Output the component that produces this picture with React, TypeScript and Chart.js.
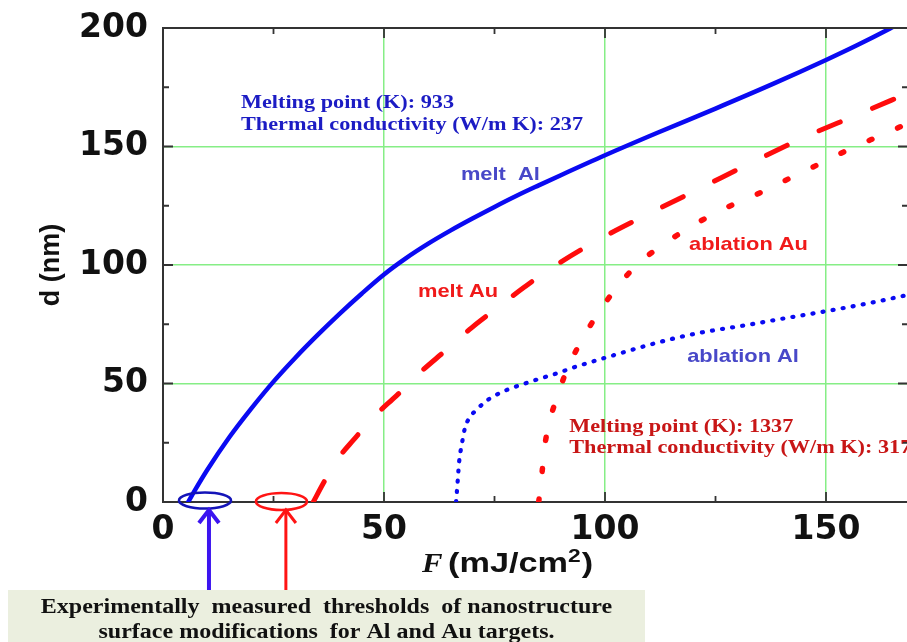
import React, { useEffect, useRef } from "react";
import { Chart, registerables } from "chart.js";

Chart.register(...registerables);

// ---------- data ----------
const meltAlF = [5.7, 7.2, 10, 15, 20, 25, 30, 35, 40, 45, 50, 55, 60, 65, 70, 75, 80, 85, 90, 100, 112, 125, 138, 150, 157, 164.5, 169];
const meltAlD = [0, 4.9, 13.5, 27.3, 39.5, 50.8, 61, 70.5, 79.5, 88, 96, 102.9, 109, 114.5, 119.6, 124.5, 129.2, 133.6, 137.9, 146.3, 155.9, 166, 176.4, 186.5, 192.7, 199.8, 204.3];

const meltAuF = [34, 36.3, 39.3, 43.1, 48, 52.9, 58.5, 63.6, 69.8, 75.1, 81.7, 86.8, 98.4, 110.2, 122.2, 133.5, 145.2, 157, 168.6];
const meltAuD = [0, 8, 17.6, 26.2, 36.5, 45, 55.2, 63.4, 73.5, 81.2, 90.6, 97.4, 110.5, 121.9, 133, 143.5, 154, 163.3, 172.6];

const ablAuF = [85.0, 85.7, 86.3, 87.4, 89.2, 91.3, 94.2, 97.7, 101.9, 107.2, 114, 120.8, 127.8, 135, 141.9, 149.1, 155.9, 162.7, 168.6];
const ablAuD = [0, 11.4, 22.6, 33.6, 44.4, 55.4, 66.5, 77.5, 88.7, 100, 109.7, 117.7, 124.5, 130.4, 136.7, 143.2, 149.4, 154.9, 159.8];

const ablAlF = [66.3, 66.4, 66.7, 67.0, 67.6, 68.3, 69.5, 70.9, 72.9, 75.3, 77.8, 80, 84.5, 89.1, 93.6, 98.5, 103, 110, 116, 121.5, 132.8, 140, 150, 160, 168.6];
const ablAlD = [0, 2.2, 9.6, 17, 24.3, 31.1, 36, 38.8, 42.3, 45.1, 47.3, 48.8, 51.6, 54.3, 57.2, 60, 62.5, 66.3, 69.2, 71.4, 74.9, 77.3, 80.5, 84, 87.4];

const xTickValues = [0, 25, 50, 75, 100, 125, 150];
const yTickValues = [0, 25, 50, 75, 100, 125, 150, 175, 200];
const labelStep = 50;
const xMax = 168.55;

const thresholdAl = 9.5;
const thresholdAu = 26.8;

// ---------- styles ----------
const SERIF = '"Liberation Serif", "Times New Roman", serif';
const SANS = '"Liberation Sans", Arial, sans-serif';
const GRID = "#86ee86";
const AXIS = "#333333";
const BLUE = "#0a0af2";
const RED = "#ff0c0c";

const pts = (xs: number[], ys: number[]) => xs.map((x, i) => ({ x, y: ys[i] }));

const annotations = [
  { text: "Melting point (K): 933", x: 17.65, y: 168.4, font: `bold 19px ${SERIF}`, color: "#1c1cc4", sx: 1.17 },
  { text: "Thermal conductivity (W/m K): 237", x: 17.65, y: 159.1, font: `bold 19px ${SERIF}`, color: "#1c1cc4", sx: 1.17 },
  { text: "melt  Al", x: 67.4, y: 138.0, font: `bold 19px ${SANS}`, color: "#4848c8", sx: 1.15 },
  { text: "melt Au", x: 57.7, y: 88.6, font: `bold 19px ${SANS}`, color: "#f01a1a", sx: 1.15 },
  { text: "ablation Au", x: 119.0, y: 108.4, font: `bold 19px ${SANS}`, color: "#f01a1a", sx: 1.15 },
  { text: "ablation Al", x: 118.6, y: 61.2, font: `bold 19px ${SANS}`, color: "#4848c8", sx: 1.15 },
  { text: "Melting point (K): 1337", x: 91.9, y: 31.6, font: `bold 19px ${SERIF}`, color: "#c81616", sx: 1.17 },
  { text: "Thermal conductivity (W/m K): 317", x: 91.9, y: 22.8, font: `bold 19px ${SERIF}`, color: "#c81616", sx: 1.17 },
];

function drawText(ctx: CanvasRenderingContext2D, text: string, x: number, y: number, font: string, color: string, sx: number, align: "left" | "center" = "left") {
  ctx.save();
  ctx.font = font;
  ctx.fillStyle = color;
  ctx.textBaseline = "middle";
  ctx.textAlign = "left";
  const w = ctx.measureText(text).width * sx;
  const x0 = align === "center" ? x - w / 2 : x;
  ctx.translate(x0, y);
  ctx.scale(sx, 1);
  ctx.fillText(text, 0, 0);
  ctx.restore();
  return w;
}

const decorPlugin = {
  id: "decor",
  afterDraw(chart: any) {
    const { ctx, chartArea: ca, scales } = chart;
    const xs = scales.x;
    const ys = scales.y;
    ctx.save();

    // top / right frame
    ctx.strokeStyle = AXIS;
    ctx.lineWidth = 2;
    ctx.beginPath();
    ctx.moveTo(ca.left, ca.top);
    ctx.lineTo(ca.right, ca.top);
    ctx.lineTo(ca.right, ca.bottom);
    ctx.stroke();

    // inward ticks
    ctx.lineWidth = 1.8;
    for (const v of xTickValues) {
      const p = xs.getPixelForValue(v);
      const len = v % labelStep === 0 ? 10 : 6;
      ctx.beginPath();
      ctx.moveTo(p, ca.bottom);
      ctx.lineTo(p, ca.bottom - len);
      ctx.moveTo(p, ca.top);
      ctx.lineTo(p, ca.top + len);
      ctx.stroke();
    }
    for (const v of yTickValues) {
      const p = ys.getPixelForValue(v);
      const len = v % labelStep === 0 ? 10 : 6;
      ctx.beginPath();
      ctx.moveTo(ca.left, p);
      ctx.lineTo(ca.left + len, p);
      ctx.moveTo(ca.right, p);
      ctx.lineTo(ca.right - len, p);
      ctx.stroke();
    }

    // threshold ellipses
    const ell = [
      { x: thresholdAl, color: "#1414b8", rx: 26, ry: 8, dy: -1.5 },
      { x: thresholdAu, color: "#ff1414", rx: 25.5, ry: 8.5, dy: -0.5 },
    ];
    ctx.lineWidth = 2.6;
    for (const e of ell) {
      const cx = xs.getPixelForValue(e.x);
      const cy = ys.getPixelForValue(0) + e.dy;
      ctx.strokeStyle = e.color;
      ctx.beginPath();
      ctx.ellipse(cx, cy, e.rx, e.ry, 0, 0, Math.PI * 2);
      ctx.stroke();
    }

    // arrows
    const arrows = [
      { x: thresholdAl + 0.9, color: "#3c14f0", w: 4 },
      { x: thresholdAu + 1.0, color: "#ff1414", w: 3 },
    ];
    for (const a of arrows) {
      const px = xs.getPixelForValue(a.x);
      const tip = ca.bottom + 8;
      ctx.strokeStyle = a.color;
      ctx.lineWidth = a.w;
      ctx.lineCap = "butt";
      ctx.beginPath();
      ctx.moveTo(px, 590);
      ctx.lineTo(px, tip + 2);
      ctx.stroke();
      ctx.beginPath();
      ctx.moveTo(px - 10, tip + 13);
      ctx.lineTo(px, tip);
      ctx.lineTo(px + 10, tip + 13);
      ctx.stroke();
    }

    // annotations
    for (const a of annotations) {
      drawText(ctx, a.text, xs.getPixelForValue(a.x), ys.getPixelForValue(a.y), a.font, a.color, a.sx);
    }

    // x title: F (mJ/cm²)
    const ty = 565;
    drawText(ctx, "F", 422, ty, `italic bold 28px ${SERIF}`, "#111", 1.1);
    let cx = 448;
    cx += drawText(ctx, "(mJ/cm", cx, ty, `bold 27px ${SANS}`, "#111", 1.27);
    cx += drawText(ctx, "2", cx, ty - 8, `bold 19px ${SANS}`, "#111", 1.2);
    drawText(ctx, ")", cx + 1, ty, `bold 27px ${SANS}`, "#111", 1.27);

    // bottom caption box
    ctx.fillStyle = "#ebefdf";
    ctx.fillRect(8, 590, 637, 52);
    drawText(ctx, "Experimentally  measured  thresholds  of nanostructure", 326.5, 608, `bold 20px ${SERIF}`, "#111", 1.2, "center");
    drawText(ctx, "surface modifications  for Al and Au targets.", 326.5, 633, `bold 20px ${SERIF}`, "#111", 1.2, "center");

    ctx.restore();
  },
};

const gridColor = (c: any) => {
  const v = c.tick ? c.tick.value : null;
  return v !== null && v % labelStep === 0 && v !== 0 && v !== 200 ? GRID : "rgba(0,0,0,0)";
};

export default function App() {
  const ref = useRef<HTMLCanvasElement | null>(null);

  useEffect(() => {
    const canvas = ref.current;
    if (!canvas) return;
    const chart = new Chart(canvas, {
      type: "line",
      data: {
        datasets: [
          {
            label: "melt Al",
            data: pts(meltAlF, meltAlD),
            borderColor: BLUE,
            borderWidth: 4.5,
            borderCapStyle: "round",
          },
          {
            label: "melt Au",
            data: pts(meltAuF, meltAuD),
            borderColor: RED,
            borderWidth: 5,
            borderDash: [23, 35],
            borderCapStyle: "round",
          },
          {
            label: "ablation Au",
            data: pts(ablAuF, ablAuD),
            borderColor: RED,
            borderWidth: 5.5,
            borderDash: [3, 28],
            borderCapStyle: "round",
          },
          {
            label: "ablation Al",
            data: pts(ablAlF, ablAlD),
            borderColor: BLUE,
            borderWidth: 4.2,
            borderDash: [1, 9.2],
            borderCapStyle: "round",
          },
        ] as any,
      },
      options: {
        responsive: false,
        animation: false,
        devicePixelRatio: 1,
        events: [],
        parsing: false as any,
        elements: {
          point: { radius: 0 },
          line: { cubicInterpolationMode: "monotone", fill: false } as any,
        },
        layout: { padding: { left: 35, top: 28, right: 12, bottom: 0 } },
        plugins: {
          legend: { display: false },
          tooltip: { enabled: false },
          title: { display: false },
        },
        scales: {
          x: {
            type: "linear",
            min: 0,
            max: xMax,
            afterBuildTicks: (s: any) => {
              s.ticks = xTickValues.map((v) => ({ value: v }));
            },
            afterFit: (s: any) => {
              s.height = 140;
              s.paddingLeft = 0;
              s.paddingRight = 0;
            },
            ticks: {
              autoSkip: false,
              maxRotation: 0,
              padding: 9,
              color: "#111",
              font: { family: '"DejaVu Sans", sans-serif', size: 33, weight: "bold" },
              callback: (v: any) => (Number(v) % labelStep === 0 ? String(v) : ""),
            },
            grid: { color: gridColor, lineWidth: 1.5, drawTicks: false },
            border: { display: true, color: AXIS, width: 2 },
          },
          y: {
            type: "linear",
            min: 0,
            max: 200,
            afterBuildTicks: (s: any) => {
              s.ticks = yTickValues.map((v) => ({ value: v }));
            },
            afterFit: (s: any) => {
              s.width = 128;
              s.paddingTop = 0;
              s.paddingBottom = 0;
            },
            ticks: {
              autoSkip: false,
              padding: 15,
              color: "#111",
              font: { family: '"DejaVu Sans", sans-serif', size: 33, weight: "bold" },
              callback: (v: any) => (Number(v) % labelStep === 0 ? String(v) : ""),
            },
            grid: { color: gridColor, lineWidth: 1.5, drawTicks: false },
            border: { display: true, color: AXIS, width: 2 },
            title: {
              display: true,
              text: "d (nm)",
              color: "#111",
              padding: 0,
              font: { family: SANS, size: 27, weight: "bold" },
            },
          },
        },
      } as any,
      plugins: [decorPlugin],
    });
    return () => chart.destroy();
  }, []);

  return (
    <div style={{ position: "fixed", left: 0, top: 0, width: 907, height: 642, overflow: "hidden", background: "#fff" }}>
      <canvas ref={ref} width={920} height={642} style={{ display: "block", width: 920, height: 642 }} />
    </div>
  );
}
